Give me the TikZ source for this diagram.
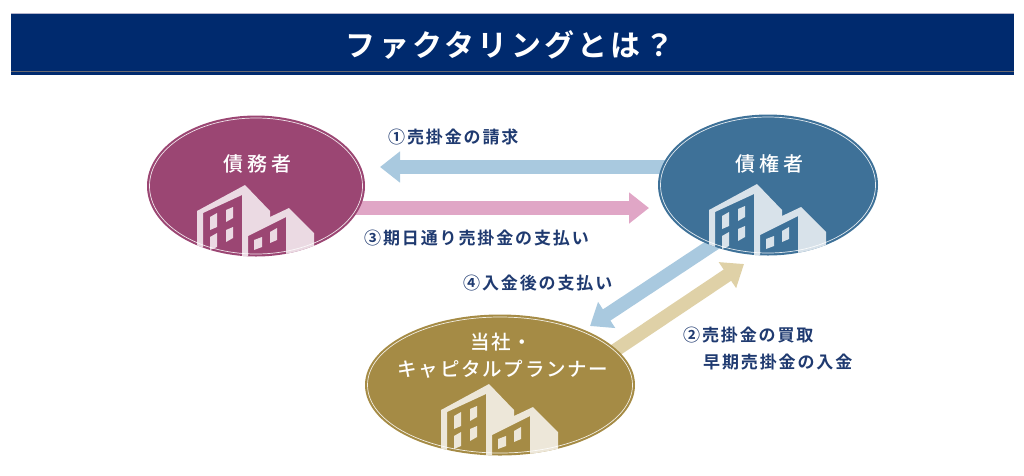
\documentclass[tikz,border=0pt]{standalone}
\usepackage{fontspec}
\setmainfont{Noto Sans CJK JP}
\newfontfamily\labelfont[LetterSpace=11]{Noto Sans CJK JP Bold}
\newfontfamily\namefont[LetterSpace=9]{Noto Sans CJK JP Medium}
\newfontfamily\namewide[LetterSpace=20]{Noto Sans CJK JP Medium}
\newfontfamily\titlefont[LetterSpace=11]{Noto Sans CJK JP Bold}
\usetikzlibrary{shapes.geometric,arrows.meta,backgrounds}
\definecolor{navyband}{HTML}{002A6E}
\definecolor{navytext}{HTML}{1F3A70}
\definecolor{plum}{HTML}{9B4673}
\definecolor{steel}{HTML}{3E7198}
\definecolor{ochre}{HTML}{A58B45}
\definecolor{paleblue}{HTML}{A9C9DF}
\definecolor{palepink}{HTML}{E0A6C6}
\definecolor{paletan}{HTML}{DFD1A7}
\definecolor{bandtop}{HTML}{B4B4CC}
\definecolor{bandline}{HTML}{6A6A70}
\tikzset{
  x=1pt,y=-1pt,
  party/.style={ellipse,inner sep=0pt,minimum width=#1,minimum height=141pt},
  ring/.style={draw=white,draw opacity=.85,line width=.7pt},
  blockarrow/.style={line width=13.5pt,-{Triangle[length=20pt,width=30pt]}},
  steplabel/.style={inner sep=0pt,anchor=west,text=navytext,font=\fontsize{17}{19}\labelfont},
  partylabel/.style={inner sep=0pt,text=white,font=\fontsize{19.5}{22}\namefont},
  pics/tower/.style={code={
    \fill[white,fill opacity=.8,even odd rule,shift={(-256,-186)}]
      (197,211)--(245,185)--(270,211)--(270,217)--(289,208)--(314,233)--(314,262)--(197,262)--cycle
      (203,213)--(242,195)--(242,262)--(203,262)--cycle
      (210,217)--(217,213)--(217,227)--(210,230)--cycle
      (226,210)--(233,207)--(233,218)--(226,222)--cycle
      (210,237)--(217,233)--(217,247)--(210,250)--cycle
      (226,230)--(233,227)--(233,238)--(226,242)--cycle
      (248,236)--(286,217)--(286,262)--(248,262)--cycle
      (254,240)--(262,237)--(262,247)--(254,250)--cycle
      (270,232)--(277,228)--(277,240)--(270,243)--cycle;
  }}
}
\begin{document}
\begin{tikzpicture}
\useasboundingbox (0,0) rectangle (1024,475);
% title band
\node[fill=navyband,draw=none,minimum width=1003pt,minimum height=61pt,inner sep=0pt] (band) at (512.5,44.5) {};
\node[inner sep=0pt,text=white,font=\fontsize{30}{33}\titlefont] (title) at (510,45) {ファクタリングとは？};
\draw[color=bandtop,line width=.9pt] (band.north west) -- (band.north east);
\draw[color=bandline,line width=1.2pt] ([yshift=3.4pt]band.south west) -- ([yshift=3.4pt]band.south east);
% parties
\node[party=218pt,fill=plum] (debtor) at (256,186) {};
\node[party=220pt,fill=steel] (creditor) at (768,185) {};
\node[party=270pt,fill=ochre] (firm) at (500,385) {};
% connector ends
\coordinate (tipA) at (380,167);
\coordinate (tipB) at (649,208);
\coordinate (tipC) at (590,326);
\coordinate (tipD) at (744,264);
\begin{pgfonlayer}{background}
\draw[blockarrow,draw=paleblue,fill=paleblue] (tipA -| creditor.center) -- (tipA);
\draw[blockarrow,draw=palepink,fill=palepink] (tipB -| debtor.center) -- (tipB);
\draw[blockarrow,draw=paleblue,fill=paleblue,shorten <=-8pt] (creditor.227) -- (tipC);
\draw[blockarrow,draw=paletan,fill=paletan,shorten <=-8pt] (firm.17) -- (tipD);
\end{pgfonlayer}
% buildings
\begin{scope}
\clip (debtor.center) ellipse [x radius=109pt,y radius=70.5pt];
\pic at (debtor.center) {tower};
\end{scope}
\begin{scope}
\clip (creditor.center) ellipse [x radius=110pt,y radius=70.5pt];
\pic at (creditor.center) {tower};
\end{scope}
\begin{scope}
\clip (firm.center) ellipse [x radius=135pt,y radius=70.5pt];
\pic at (firm.center) {tower};
\end{scope}
% rings
\draw[ring] (debtor.center) ellipse [x radius=106.5pt,y radius=68pt];
\draw[ring] (creditor.center) ellipse [x radius=107.5pt,y radius=68pt];
\draw[ring] (firm.center) ellipse [x radius=132.5pt,y radius=68pt];
% party labels
\node[partylabel,font=\fontsize{20}{22}\namewide] (debtorname) at (257,164) {債務者};
\node[partylabel,font=\fontsize{20}{22}\namewide] (creditorname) at (769,164) {債権者};
\node[partylabel] (firmnameA) at (501,342) {当社・};
\node[partylabel] (firmnameB) at (503,369) {キャピタルプランナー};
% step labels
\node[steplabel] (stepA) at (388,137) {①売掛金の請求};
\node[steplabel] (stepC) at (364,238) {③期日通り売掛金の支払い};
\node[steplabel] (stepD) at (463,283) {④入金後の支払い};
\node[steplabel] (stepB) at (683,335) {②売掛金の買取};
\node[steplabel] (stepE) at (703,362) {早期売掛金の入金};
\end{tikzpicture}
\end{document}
